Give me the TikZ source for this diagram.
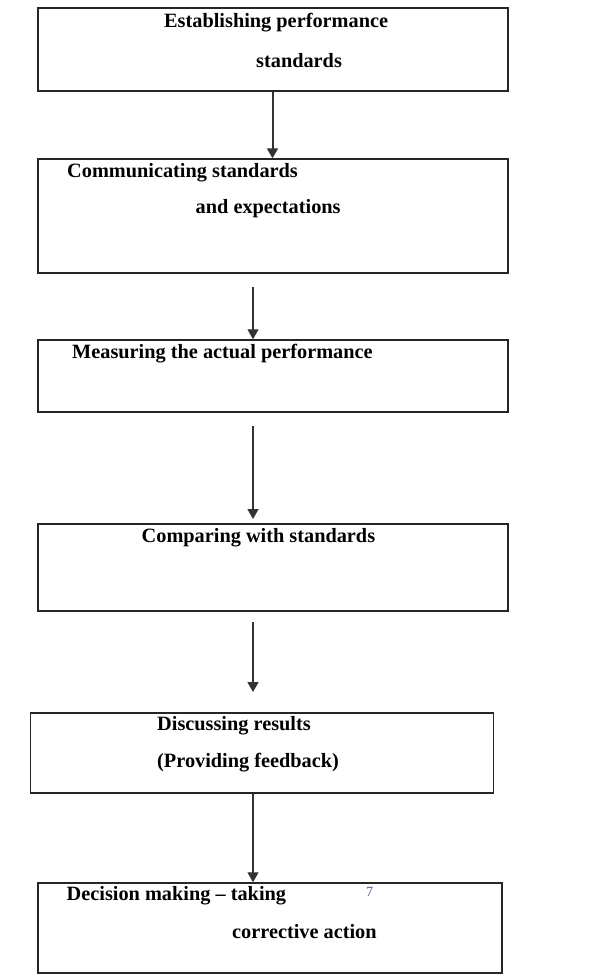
\documentclass[tikz,border=0pt]{standalone}
\usepackage{fontspec}
\setmainfont{Liberation Serif}
\usetikzlibrary{arrows.meta}
\begin{document}
\begin{tikzpicture}[x=1pt,y=-1pt,
  stagebox/.style={draw=black!85,line width=1.5pt,rectangle,inner sep=0pt},
  lbl/.style={anchor=base west,inner sep=0pt,font=\bfseries\fontsize{20.3}{24}\selectfont},
  arr/.style={draw=black!80,line width=1.3pt,-{Triangle[width=11pt,length=10pt]}}]
\useasboundingbox[fill=white] (0,0) rectangle (610,980);
% boxes
\node[stagebox,minimum width=470pt,minimum height=83pt] (b1) at (273,49.5) {};
\node[stagebox,minimum width=470pt,minimum height=114pt] (b2) at (273,216) {};
\node[stagebox,minimum width=470pt,minimum height=72pt] (b3) at (273,376) {};
\node[stagebox,minimum width=470pt,minimum height=87pt] (b4) at (273,567.5) {};
\node[stagebox,minimum width=463pt,minimum height=80pt] (b5) at (262,753) {};
\node[stagebox,minimum width=464pt,minimum height=90pt] (b6) at (270,928) {};
% texts
\node[lbl] (t1a) at (164,27) {Establishing performance};
\node[lbl] (t1b) at (256,67) {standards};
\node[lbl] (t2a) at (67,177) {Communicating standards};
\node[lbl] (t2b) at (195.5,213) {and expectations};
\node[lbl] (t3) at (72,358) {Measuring the actual performance};
\node[lbl] (t4) at (141.5,542) {Comparing with standards};
\node[lbl] (t5a) at (157,730) {Discussing results};
\node[lbl] (t5b) at (157,767) {(Providing feedback)};
\node[lbl] (t6a) at (66.5,900) {Decision making -- taking};
\node[anchor=base west,inner sep=0pt,font=\fontsize{14}{16}\selectfont,text=black!40!blue!30!gray] (pg) at (366,896) {7};
\node[lbl] (t6b) at (232,938) {corrective action};
% connector free ends
\coordinate (a2s) at (253,287);
\coordinate (a3s) at (253,426);
\coordinate (a3e) at (253,519);
\coordinate (a4s) at (253,622);
\coordinate (a4e) at (253,692);
% arrows
\draw[arr,line width=2pt] (b1.south -| 272.5,0) -- (b2.north -| 272.5,0);
\draw[arr] (a2s) -- (a2s |- b3.north);
\draw[arr] (a3s) -- (a3e);
\draw[arr] (a4s) -- (a4e);
\draw[arr] (b5.south -| a4s) -- (a4s |- b6.north);
\end{tikzpicture}
\end{document}
